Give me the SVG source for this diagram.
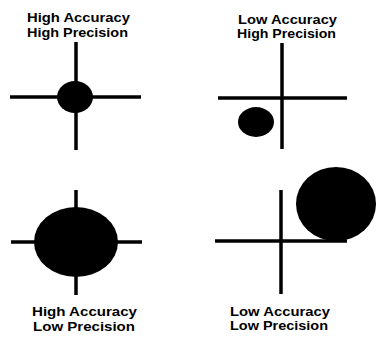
<svg xmlns="http://www.w3.org/2000/svg" width="378" height="337" viewBox="0 0 378 337">
<style>
.ax{stroke:#000;stroke-width:3.5;fill:none;stroke-linecap:butt}
.dot{fill:#000}
.lbl{font-family:"Liberation Sans",Arial,sans-serif;font-weight:bold;font-size:13px;fill:#000}
</style>
<rect width="378" height="337" fill="#fff"/>
<g id="connectors">
<line class="ax" x1="76" y1="42" x2="76" y2="150"/>
<line class="ax" x1="10" y1="97" x2="141" y2="97"/>
<line class="ax" x1="282" y1="43" x2="282" y2="149"/>
<line class="ax" x1="218" y1="98" x2="347" y2="98"/>
<line class="ax" x1="76" y1="190" x2="76" y2="295"/>
<line class="ax" x1="11" y1="242" x2="142" y2="242"/>
<line class="ax" x1="281" y1="190" x2="281" y2="294"/>
<line class="ax" x1="215" y1="241" x2="347" y2="241"/>
</g>
<g id="q1">
<ellipse class="dot" cx="75" cy="97" rx="18" ry="16"/>
<text class="lbl" x="27" y="22" textLength="103" lengthAdjust="spacingAndGlyphs">High Accuracy</text>
<text class="lbl" x="27" y="37" textLength="101" lengthAdjust="spacingAndGlyphs">High Precision</text>
</g>
<g id="q2">
<ellipse class="dot" cx="256" cy="122" rx="18" ry="15"/>
<text class="lbl" x="238" y="24" textLength="99" lengthAdjust="spacingAndGlyphs">Low Accuracy</text>
<text class="lbl" x="237" y="38" textLength="99" lengthAdjust="spacingAndGlyphs">High Precision</text>
</g>
<g id="q3">
<ellipse class="dot" cx="76" cy="242" rx="42" ry="35"/>
<text class="lbl" x="32" y="316" textLength="105" lengthAdjust="spacingAndGlyphs">High Accuracy</text>
<text class="lbl" x="33" y="331" textLength="102" lengthAdjust="spacingAndGlyphs">Low Precision</text>
</g>
<g id="q4">
<ellipse class="dot" cx="336" cy="204" rx="40" ry="37"/>
<text class="lbl" x="230" y="316" textLength="100" lengthAdjust="spacingAndGlyphs">Low Accuracy</text>
<text class="lbl" x="230" y="330" textLength="98" lengthAdjust="spacingAndGlyphs">Low Precision</text>
</g>
</svg>
